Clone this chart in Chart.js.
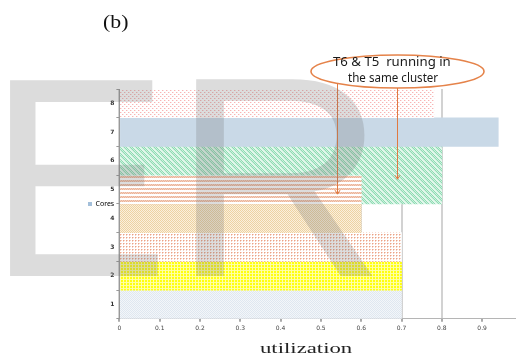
<!DOCTYPE html>
<html>
<head>
<meta charset="utf-8">
<script src="https://cdn.jsdelivr.net/npm/chart.js@4"></script>
<style>
  html, body { margin: 0; padding: 0; background: #fff; overflow: hidden; }
  canvas { display: block; }
</style>
</head>
<body>
<canvas id="myChart" width="516" height="354"></canvas>
<script>
// data
var coreLabels = ['1', '2', '3', '4', '5', '6', '7', '8'];
var coreUtil = [0.7, 0.7, 0.7, 0.6, 0.6, 0.8, 0.94, 0.78];
var t5Overlap = [null, null, null, null, 0.8, null, null, null]; // T5 spilling into core 5
var xTickValues = [0, 0.1, 0.2, 0.3, 0.4, 0.5, 0.6, 0.7, 0.8, 0.9];
var arrowX = [0.54, 0.69];       // T6, T5 arrows (utilization)
var arrowCore = ['5', '5'];

// small tile patterns, like the office hatch fills
function tile(w, h, fn) {
    var c = document.createElement('canvas');
    c.width = w; c.height = h;
    var g = c.getContext('2d');
    g.fillStyle = '#fff';
    g.fillRect(0, 0, w, h);
    fn(g);
    return g.createPattern(c, 'repeat');
}
function px(g, x, y, col) { g.fillStyle = col; g.fillRect(x, y, 1, 1); }

var pinkDots = tile(4, 4, function (g) {
    px(g, 0, 0, '#f8b4b4'); px(g, 2, 2, '#f8b4b4'); px(g, 1, 0, '#fde2e2'); px(g, 3, 2, '#fde2e2');
});
var blueSolid = '#c9d9e7';
var greenHatch = tile(6, 6, function (g) {
    for (var y = 0; y < 6; y++) for (var x = 0; x < 6; x++) {
        var d = (x + 6 - y) % 6;
        if (d < 4) px(g, x, y, (x + y) % 2 ? '#8fdbb3' : '#cdf1de');
        else px(g, x, y, '#e3f7ec');
    }
});
var orangeStripes = tile(4, 4, function (g) {
    for (var x = 0; x < 4; x++) {
        px(g, x, 0, x % 2 ? '#ebb399' : '#f4d0bd');
        px(g, x, 1, x % 2 ? '#f4d0bd' : '#ebb399');
    }
});
var tanChecker = tile(2, 2, function (g) {
    px(g, 0, 0, '#edd2a2'); px(g, 1, 1, '#edd2a2'); px(g, 1, 0, '#fbf0dc'); px(g, 0, 1, '#fbf0dc');
});
var orangeDots = tile(3, 3, function (g) {
    px(g, 0, 0, '#eba286'); px(g, 1, 0, '#f6d2c3'); px(g, 0, 1, '#f6d2c3');
});
var yellowGrid = tile(3, 3, function (g) {
    g.fillStyle = '#ffff10'; g.fillRect(0, 0, 3, 3);
    for (var i = 0; i < 3; i++) { px(g, i, 0, '#ffff9a'); px(g, 0, i, '#ffffa8'); }
});
var paleBlue = tile(2, 2, function (g) {
    px(g, 0, 0, '#dfe7f0'); px(g, 1, 1, '#dfe7f0'); px(g, 1, 0, '#f3f6f9'); px(g, 0, 1, '#f3f6f9');
});
var barFills = [paleBlue, yellowGrid, orangeDots, tanChecker, orangeStripes, greenHatch, blueSolid, pinkDots];

// draw text so its ink fits a horizontal span (the figure is stretched sideways)
function fitText(ctx, text, font, x0, x1, baseY) {
    ctx.save();
    ctx.font = font;
    ctx.textAlign = 'left';
    ctx.textBaseline = 'alphabetic';
    var m = ctx.measureText(text);
    var w = m.actualBoundingBoxLeft + m.actualBoundingBoxRight;
    var sx = (x1 - x0) / w;
    ctx.translate(x0 + m.actualBoundingBoxLeft * sx, baseY);
    ctx.scale(sx, 1);
    ctx.fillText(text, 0, 0);
    ctx.restore();
}
function fitBox(ctx, text, font, x0, y0, x1, y1) {
    ctx.save();
    ctx.font = font;
    ctx.textAlign = 'left';
    ctx.textBaseline = 'alphabetic';
    var m = ctx.measureText(text);
    var w = m.actualBoundingBoxLeft + m.actualBoundingBoxRight;
    var h = m.actualBoundingBoxAscent + m.actualBoundingBoxDescent;
    var sx = (x1 - x0) / w, sy = (y1 - y0) / h;
    ctx.translate(x0 + m.actualBoundingBoxLeft * sx, y0 + m.actualBoundingBoxAscent * sy);
    ctx.scale(sx, sy);
    ctx.fillText(text, 0, 0);
    ctx.restore();
}

var decorations = {
    id: 'decorations',
    beforeDraw: function (chart) {
        // legend sits tight against the tick labels in the original
        var lg = chart.legend;
        if (lg) {
            var w = lg.right - lg.left;
            lg.left = 88;
            lg.right = 88 + w;
        }
    },
    afterDraw: function (chart) {
        var ctx = chart.ctx;
        var xs = chart.scales.x, ys = chart.scales.y;

        // "(b)" and axis title
        ctx.fillStyle = '#111';
        fitText(ctx, '(b)', '19px "Liberation Serif"', 103, 128, 28);
        ctx.fillStyle = '#222';
        fitText(ctx, 'utilization', '15px "Liberation Serif"', 260, 353, 353);

        // callout ellipse
        var cx = 397.5, cy = 71.5, rx = 86.5, ry = 16.5;
        ctx.save();
        ctx.strokeStyle = '#e5834a';
        ctx.lineWidth = 1.6;
        ctx.beginPath();
        ctx.ellipse(cx, cy, rx, ry, 0, 0, Math.PI * 2);
        ctx.stroke();
        ctx.restore();
        ctx.fillStyle = '#1a1a1a';
        fitText(ctx, 'T6 & T5  running in', '12.5px "Noto Sans"', 333, 450, 66);
        fitText(ctx, 'the same cluster', '12.5px "Noto Sans"', 348, 438, 82);

        // arrows down to the bars
        var band = ys.height / coreLabels.length;
        var tipOffset = [0.16, -0.36];
        ctx.save();
        ctx.strokeStyle = '#e07a42';
        ctx.lineWidth = 1;
        for (var i = 0; i < arrowX.length; i++) {
            var ax = Math.round(xs.getPixelForValue(arrowX[i])) + 0.5;
            var k = (ax - cx) / rx;
            var sy0 = cy + ry * Math.sqrt(Math.max(0, 1 - k * k));
            var ty = ys.getPixelForValue(coreLabels.indexOf(arrowCore[i])) + tipOffset[i] * band;
            ctx.beginPath();
            ctx.moveTo(ax, sy0);
            ctx.lineTo(ax, ty);
            ctx.moveTo(ax - 2.5, ty - 4);
            ctx.lineTo(ax, ty);
            ctx.lineTo(ax + 2.5, ty - 4);
            ctx.stroke();
        }
        ctx.restore();

        // big grey "ER" watermark laid over the figure
        ctx.fillStyle = 'rgba(115,115,115,0.25)';
        fitBox(ctx, 'E', '280px "Liberation Sans"', 9, 76, 158, 276);
        fitBox(ctx, 'R', '280px "Liberation Sans"', 195, 75, 376, 276);
    }
};

var ctx = document.getElementById('myChart').getContext('2d');
var myChart = new Chart(ctx, {
    type: 'bar',
    data: {
        labels: coreLabels,
        datasets: [{
            label: 'Cores',
            data: coreUtil,
            backgroundColor: barFills,
            borderWidth: 0,
            barPercentage: 1,
            categoryPercentage: 1,
            grouped: false,
            order: 1
        }, {
            label: 'T5',
            data: t5Overlap,
            backgroundColor: greenHatch,
            borderWidth: 0,
            barPercentage: 1,
            categoryPercentage: 1,
            grouped: false,
            order: 2
        }]
    },
    options: {
        indexAxis: 'y',
        responsive: false,
        animation: false,
        layout: { padding: { left: 72, top: 89, right: 0, bottom: 19 } },
        scales: {
            x: {
                type: 'linear',
                min: 0,
                max: 0.984,
                afterBuildTicks: function (scale) {
                    scale.ticks = xTickValues.map(function (v) { return { value: v }; });
                },
                grid: {
                    color: function (c) {
                        return (c.tick && c.tick.value === 0.9) ? 'rgba(0,0,0,0)' : '#d2d2d2';
                    },
                    lineWidth: 2,
                    tickColor: '#aaa',
                    tickLength: 3
                },
                border: { color: '#b5b5b5', width: 1 },
                ticks: {
                    color: '#444',
                    font: { family: 'DejaVu Sans', size: 6 },
                    padding: 3,
                    maxRotation: 0,
                    callback: function (v) { return v === 0 ? '0' : v.toFixed(1); }
                }
            },
            y: {
                reverse: true,
                grid: { drawOnChartArea: false, drawTicks: true, tickLength: 3, color: '#999' },
                border: { color: '#999', width: 1 },
                ticks: {
                    color: '#333',
                    font: { family: 'DejaVu Sans', size: 6, weight: 'bold' },
                    padding: 2
                }
            }
        },
        plugins: {
            legend: {
                position: 'left',
                fullSize: false,
                labels: {
                    boxWidth: 4,
                    boxHeight: 4,
                    padding: 0,
                    color: '#333',
                    font: { family: 'Noto Sans', size: 7 },
                    generateLabels: function (chart) {
                        return [{ text: 'Cores', fillStyle: '#a3bfda', strokeStyle: '#a3bfda', lineWidth: 0, datasetIndex: 0 }];
                    }
                }
            },
            tooltip: { enabled: false }
        }
    },
    plugins: [decorations]
});
</script>
</body>
</html>
